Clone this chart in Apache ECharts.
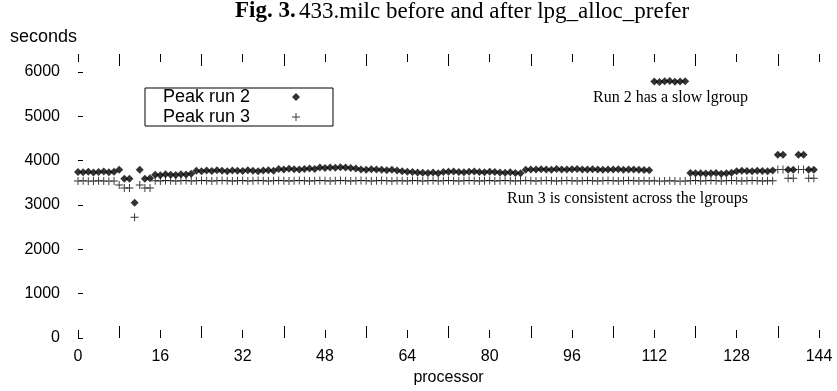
<!DOCTYPE html>
<html>
<head>
<meta charset="utf-8">
<script src="https://cdn.jsdelivr.net/npm/echarts@6/dist/echarts.min.js"></script>
<style>
html,body{margin:0;padding:0;background:#fff;}
#chart{width:837px;height:391px;}
</style>
</head>
<body>
<div id="chart"></div>
<script>
// ---- data ----
var seriesNames = ['Peak run 2', 'Peak run 3'];
var xTicks = [0, 16, 32, 48, 64, 80, 96, 112, 128, 144];
var yTicks = [0, 1000, 2000, 3000, 4000, 5000, 6000];

// Peak run 2 (seconds), processors 0..143
var run2 = [
  3740,3735,3745,3730,3740,3750,3735,3745,
  3790,
  3590,3590,
  3050,
  3790,
  3590,3600,
  3680,3670,3690,3680,3675,3690,3685,3700,
  3770,3760,3775,3765,3780,3770,3760,3775,3770,3765,3780,3770,3760,3775,3780,3770,
  3810,3800,3815,3805,3800,3810,3820,3810,
  3840,3830,3845,3835,3850,3840,3830,3820,
  3800,3790,3805,3795,3790,3780,3790,3775,
  3760,3745,3740,3730,3725,3720,3730,3715,
  3740,3745,3750,3740,3735,3745,3750,3740,3735,3745,3740,3730,3725,3735,3720,3715,
  3790,3800,3795,3805,3800,3790,3810,3800,3795,3805,3810,3800,3795,3805,3800,3790,3800,3795,3805,3790,3800,3795,3790,3785,3780,
  5780,5770,5785,5790,5775,5780,5785,
  3720,3710,3715,3705,3710,3720,3700,3710,3725,
  3760,3770,3765,3760,3770,3765,3760,3775,
  4130,4130,3790,3790,4130,4130,3790,3790
];

// Peak run 3 (seconds), processors 0..143
var run3 = [
  3540,3545,3535,3540,3545,3540,3535,3540,
  3450,
  3380,3380,
  2720,
  3450,
  3380,3380,
  3545,3540,3550,3545,3540,3545,3550,3540,3545,3550,3545,3540,3545,3550,3545,3540,
  3545,3550,3540,3545,3550,3545,3540,3545,3550,3545,3540,3545,3550,3545,3540,3545,
  3550,3545,3540,3545,3550,3545,3540,3545,3550,3545,3540,3545,3550,3545,3540,3545,
  3545,3540,3550,3545,3540,3545,3550,3540,3545,3550,3545,3540,3545,3550,3545,3540,
  3545,3550,3540,3545,3550,3545,3540,3545,3550,3545,3540,3545,3550,3545,3540,3545,
  3550,3545,3540,3545,3550,3545,3540,3545,3550,3545,3540,3545,3550,3545,3540,3545,
  3540,3545,3535,3540,3545,3540,3535,3540,
  3545,3550,3540,3545,3550,3545,3540,3545,3550,3545,3540,3545,3550,3545,3540,3545,
  3545,
  3800,3800,3600,3600,3800,3800,3600,3600
];

function toPoints(arr) {
  var out = [];
  for (var i = 0; i < arr.length; i++) out.push([i, arr[i]]);
  return out;
}

var PLUS = 'path://M-1,-0.12 H1 V0.12 H-1 Z M-0.12,-1 H0.12 V1 H-0.12 Z';
var SANS = '"Liberation Sans", Arial, Helvetica, sans-serif';
var SERIF = '"Liberation Serif", "Times New Roman", serif';

var chart = echarts.init(document.getElementById('chart'), null, {renderer: 'canvas'});

var xAxisCommon = {
  type: 'value', min: 0, max: 144, interval: 16,
  axisLine: {show: false},
  axisTick: {show: true, inside: true, length: 8, lineStyle: {color: '#000', width: 1}},
  minorTick: {show: true, splitNumber: 2, length: 12, lineStyle: {color: '#000', width: 1}},
  splitLine: {show: false},
  minorSplitLine: {show: false}
};

var option = {
  backgroundColor: '#fff',
  animation: false,
  grid: {left: 78, right: 18, top: 54, bottom: 53, containLabel: false},
  xAxis: [
    Object.assign({}, xAxisCommon, {
      position: 'bottom',
      name: 'processor', nameLocation: 'middle', nameGap: 31,
      nameTextStyle: {fontFamily: SANS, fontSize: 16, color: '#000'},
      axisLabel: {show: true, margin: 11, fontFamily: SANS, fontSize: 16, color: '#000',
        formatter: function (v) { return xTicks.indexOf(v) >= 0 ? String(v) : ''; }}
    }),
    Object.assign({}, xAxisCommon, {
      position: 'top',
      axisLabel: {show: false}
    })
  ],
  yAxis: {
    type: 'value', min: 0, max: 6400, interval: 1000,
    axisLine: {show: false},
    axisTick: {show: true, inside: true, length: 5, lineStyle: {color: '#000', width: 1}},
    splitLine: {show: false},
    axisLabel: {margin: 18, fontFamily: SANS, fontSize: 16, color: '#000', showMaxLabel: false,
      formatter: function (v) { return yTicks.indexOf(v) >= 0 ? String(v) : ''; }}
  },
  legend: {
    orient: 'vertical', left: 145, top: 88,
    align: 'right',
    itemWidth: 8, itemHeight: 8, itemGap: 2,
    borderColor: '#000', borderWidth: 1, borderRadius: 0,
    padding: [0, 33, 0, 18],
    data: seriesNames,
    formatter: function (name) { return '{t|' + name + '}'; },
    textStyle: {
      rich: {t: {width: 124, align: 'left', fontFamily: SANS, fontSize: 18, lineHeight: 18, color: '#000'}}
    }
  },
  graphic: [
    {type: 'text', left: 235, top: 0, style: {
      text: '{b|Fig. 3.} {r|433.milc before and after lpg_alloc_prefer}',
      rich: {
        b: {fontFamily: SERIF, fontSize: 23, fontWeight: 'bold', fill: '#000'},
        r: {fontFamily: SERIF, fontSize: 23, fill: '#000'}
      }
    }},
    {type: 'text', left: 10, top: 28, style: {text: 'seconds', fontFamily: SANS, fontSize: 18, fill: '#000'}},
    {type: 'text', left: 593, top: 90, style: {text: 'Run 2 has a slow lgroup', fontFamily: SERIF, fontSize: 16, fill: '#000'}},
    {type: 'text', left: 507, top: 191, style: {text: 'Run 3 is consistent across the lgroups', fontFamily: SERIF, fontSize: 16, fill: '#000'}}
  ],
  series: [
    {
      name: seriesNames[0], type: 'scatter', xAxisIndex: 0,
      symbol: 'diamond', symbolSize: 8,
      itemStyle: {color: '#000'},
      data: toPoints(run2)
    },
    {
      name: seriesNames[1], type: 'scatter', xAxisIndex: 0,
      symbol: PLUS, symbolSize: 8,
      itemStyle: {color: '#000'},
      data: toPoints(run3)
    }
  ]
};
chart.setOption(option);
</script>
</body>
</html>
